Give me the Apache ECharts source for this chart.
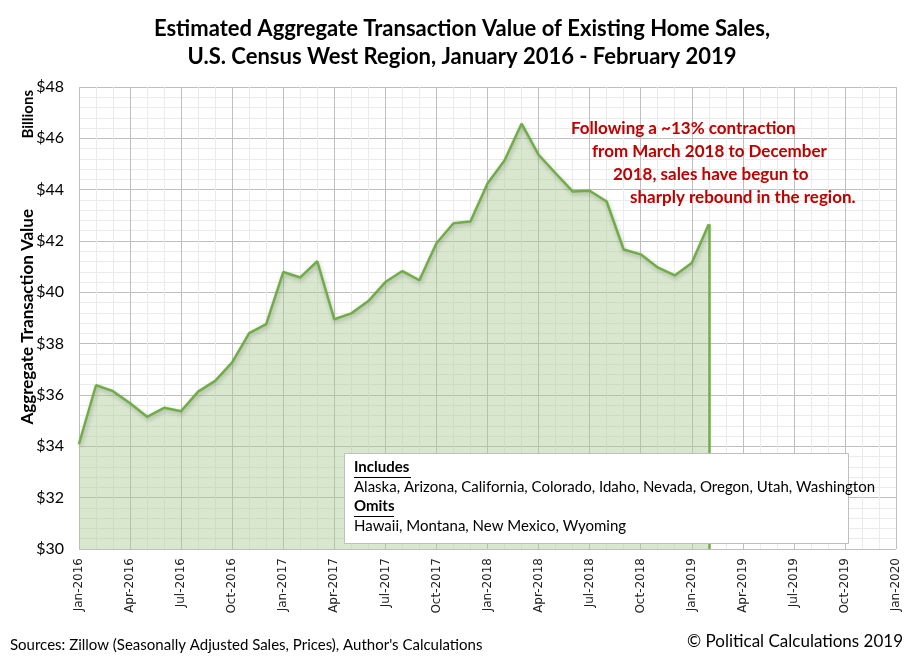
<!DOCTYPE html>
<html style="height: 100%">
<head>
    <meta charset="utf-8">
</head>
<body style="height: 100%; margin: 0; background: #fff">
    <div id="main" style="width: 911px; height: 662px"></div>
    <script type="text/javascript" src="https://cdn.jsdelivr.net/npm/echarts@6/dist/echarts.min.js"></script>
    <script type="text/javascript">
        // month labels, Jan-2016 .. Jan-2020 (axis positions 0..48)
        var monthNames = ['Jan', 'Feb', 'Mar', 'Apr', 'May', 'Jun', 'Jul', 'Aug', 'Sep', 'Oct', 'Nov', 'Dec'];
        var years = [2016, 2017, 2018, 2019, 2020];
        var months = [];
        years.forEach(function (y) {
            monthNames.forEach(function (m) { months.push(m + '-' + y); });
        });
        months = months.slice(0, 49);

        // billions of dollars, Jan 2016 - Feb 2019
        var values = [
            34.09, 36.38, 36.15, 35.68, 35.15, 35.50, 35.37, 36.13, 36.55, 37.27, 38.41, 38.76,
            40.79, 40.58, 41.21, 38.95, 39.18, 39.66, 40.40, 40.83, 40.47, 41.91, 42.69, 42.76,
            44.24, 45.14, 46.57, 45.36, 44.64, 43.93, 43.96, 43.54, 41.67, 41.48, 40.97, 40.66,
            41.14, 42.65
        ];

        var includes = 'Alaska, Arizona, California, Colorado, Idaho, Nevada, Oregon, Utah, Washington';
        var omits = 'Hawaii, Montana, New Mexico, Wyoming';
        var note = [
            'Following a ~13% contraction',
            'from March 2018 to December',
            '2018, sales have begun to',
            'sharply rebound in the region.'
        ];

        var seriesData = values.map(function (v, i) { return [i, v]; });
        var last = values.length - 1;

        var chart = echarts.init(document.getElementById('main'));
        var font = 'Lato, "Open Sans", sans-serif';

        // annotation lines, each indented a bit more
        var noteIndent = [571, 592, 613, 630];
        var noteGraphics = note.map(function (t, i) {
            return {
                type: 'text', left: noteIndent[i], top: 120 + i * 23, z: 10,
                style: { text: t, font: 'bold 17px ' + font, fill: '#c00000' }
            };
        });

        function boxText(t, x, y, bold) {
            return {
                type: 'text', left: x, top: y, z: 21,
                style: { text: t, font: (bold ? 'bold ' : '') + '15px ' + font, fill: '#000' }
            };
        }
        function underline(x, y, w) {
            return {
                type: 'rect', left: x, top: y, z: 21,
                shape: { width: w, height: 1 },
                style: { fill: '#000' }
            };
        }

        var option = {
            backgroundColor: '#fff',
            animation: false,
            title: {
                text: 'Estimated Aggregate Transaction Value of Existing Home Sales,\nU.S. Census West Region, January 2016 - February 2019',
                left: 457,
                top: 10,
                textAlign: 'center',
                textStyle: { fontFamily: font, fontSize: 22, fontWeight: 'bold', color: '#000', lineHeight: 28 }
            },
            grid: { left: 79, right: 15, top: 87, bottom: 113 },
            xAxis: {
                type: 'value',
                min: 0,
                max: 48,
                interval: 3,
                axisLine: { show: false },
                axisTick: { show: false },
                axisLabel: {
                    rotate: 90,
                    margin: 9,
                    fontFamily: 'DejaVu Sans, Verdana, sans-serif',
                    fontSize: 12,
                    color: '#222',
                    formatter: function (v) { return months[v] || ''; }
                },
                splitLine: { show: true, lineStyle: { color: '#bfbfbf', width: 1 } },
                minorTick: { show: false, splitNumber: 3 },
                minorSplitLine: { show: true, lineStyle: { color: '#ebebeb', width: 1 } }
            },
            yAxis: {
                type: 'value',
                min: 30,
                max: 48,
                interval: 2,
                axisLine: { show: false },
                axisTick: { show: false },
                axisLabel: {
                    margin: 15,
                    fontFamily: font,
                    fontSize: 16,
                    color: '#000',
                    formatter: '${value}'
                },
                splitLine: { show: true, lineStyle: { color: '#bfbfbf', width: 1 } },
                minorTick: { show: false, splitNumber: 5 },
                minorSplitLine: { show: true, lineStyle: { color: '#ebebeb', width: 1 } }
            },
            series: [{
                type: 'line',
                data: seriesData,
                symbol: 'none',
                lineStyle: {
                    color: '#70ad47',
                    width: 2.5,
                    shadowColor: 'rgba(0,0,0,0.25)',
                    shadowBlur: 4,
                    shadowOffsetX: 1,
                    shadowOffsetY: 2
                },
                areaStyle: { color: 'rgba(169,200,146,0.44)', opacity: 1, origin: 'start' },
                markLine: {
                    silent: true,
                    symbol: 'none',
                    label: { show: false },
                    lineStyle: { color: '#70ad47', width: 2.5, type: 'solid' },
                    data: [[
                        { coord: [last, 30] },
                        { coord: [last, values[last]] }
                    ]]
                },
                z: 3
            }],
            graphic: [
                {
                    type: 'text',
                    left: 21,
                    top: 90,
                    rotation: Math.PI / 2,
                    style: { text: 'Billions', font: 'bold 15px ' + font, fill: '#000' }
                },
                {
                    type: 'text',
                    left: 19,
                    top: 209,
                    rotation: Math.PI / 2,
                    style: { text: 'Aggregate Transaction Value', font: 'bold 17px ' + font, fill: '#000' }
                },
                {
                    type: 'rect',
                    left: 344,
                    top: 453,
                    z: 20,
                    shape: { width: 504, height: 90 },
                    style: { fill: '#fff', stroke: '#bfbfbf', lineWidth: 1 }
                },
                boxText('Includes', 354, 460, true),
                underline(354, 477, 57),
                boxText(includes, 354, 480, false),
                boxText('Omits', 354, 499, true),
                underline(354, 516, 40),
                boxText(omits, 354, 519, false)
            ].concat(noteGraphics).concat([
                {
                    type: 'text',
                    left: 10,
                    top: 638,
                    style: {
                        text: "Sources: Zillow (Seasonally Adjusted Sales, Prices), Author's Calculations",
                        font: '15px ' + font, fill: '#000'
                    }
                },
                {
                    type: 'text',
                    right: 8,
                    top: 633,
                    style: { text: '\u00a9 Political Calculations 2019', font: '17px ' + font, fill: '#000' }
                }
            ])
        };

        chart.setOption(option);
    </script>
</body>
</html>
